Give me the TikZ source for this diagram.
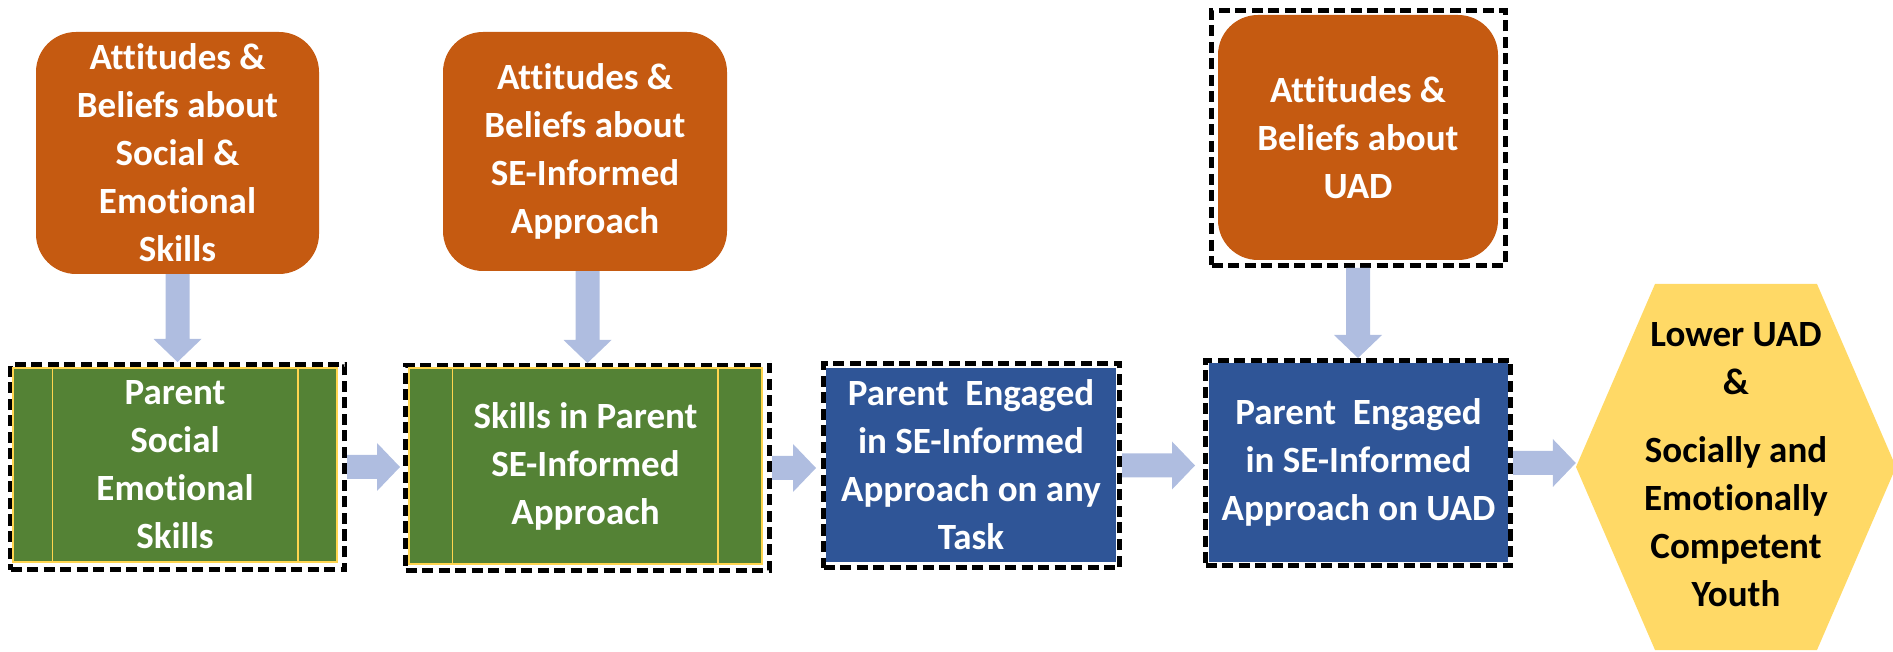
\documentclass[tikz,border=0pt]{standalone}
\usepackage{fontspec}
\setmainfont{Carlito}[Ligatures=NoCommon]
\usetikzlibrary{calc}

\definecolor{attorange}{HTML}{C55A11}
\definecolor{skillgreen}{HTML}{548235}
\definecolor{engblue}{HTML}{2F5597}
\definecolor{outyellow}{HTML}{FFD966}
\definecolor{flowarrow}{HTML}{AFBDE0}
\definecolor{rulegold}{HTML}{FFD54F}

% block arrow pointing down, from the bottom of #1 to the top of #2
\newcommand{\flowdown}[2]{%
  \fill[flowarrow] let \p1=(#1.south), \p2=(#2.north) in
    (\x2-12pt,\y1) -- (\x2+12pt,\y1) -- (\x2+12pt,\y2+23pt) -- (\x2+24pt,\y2+23pt)
    -- (\x2,\y2) -- (\x2-24pt,\y2+23pt) -- (\x2-12pt,\y2+23pt) -- cycle;}
% block arrow pointing right, from #1 towards #2, stopping #3 short of it
\newcommand{\flowright}[3]{%
  \fill[flowarrow] let \p1=(#1.east), \p2=(#2.west) in
    (\x1,\y1+12pt) -- (\x2-#3-23pt,\y1+12pt) -- (\x2-#3-23pt,\y1+24pt) -- (\x2-#3,\y1)
    -- (\x2-#3-23pt,\y1-24pt) -- (\x2-#3-23pt,\y1-12pt) -- (\x1,\y1-12pt) -- cycle;}

\begin{document}
\begin{tikzpicture}[x=1pt,y=1pt,
  txt/.style={font=\fontsize{37}{48}\selectfont\bfseries, align=center, text=white},
  attbox/.style={txt, fill=attorange, rounded corners=40pt, inner sep=0pt},
  greenpanel/.style={txt, fill=skillgreen, draw=rulegold, line width=1.5pt, inner sep=0pt},
  bluepanel/.style={txt, fill=engblue, inner sep=0pt},
  dashframe/.style={draw=black, line width=5pt, dash pattern=on 11pt off 5.5pt,
    preaction={draw=white, line width=5pt, solid}, inner sep=0pt},
  sidebar/.style={draw=rulegold, line width=1.5pt},
]
\useasboundingbox (0,0) rectangle (1893,651);

% attitudes and beliefs (top row)
\node[attbox, minimum width=283pt, minimum height=242pt] (att1) at (177.5,498)
  {Attitudes \&\\Beliefs about\\Social \&\\Emotional\\Skills};
\node[attbox, minimum width=284pt, minimum height=239pt] (att2) at (585,499.5)
  {Attitudes \&\\Beliefs about\\SE-Informed\\Approach};
\node[dashframe, minimum width=294pt, minimum height=255pt] (att3f) at (1358.5,513) {};
\node[attbox, minimum width=280pt, minimum height=245pt] (att3) at (1358,513.5)
  {Attitudes \&\\Beliefs about\\UAD};

% parent skills (green panels)
\node[dashframe, minimum width=334pt, minimum height=205pt] (sk1f) at (177.5,184) {};
\node[greenpanel, minimum width=324pt, minimum height=194pt] (sk1) at (175,186)
  {Parent\\Social\\Emotional\\Skills};
\draw[sidebar] ($(sk1.north west)+(40pt,0)$) -- ($(sk1.south west)+(40pt,0)$);
\draw[sidebar] ($(sk1.north east)+(-40pt,0)$) -- ($(sk1.south east)+(-40pt,0)$);

\node[dashframe, minimum width=364pt, minimum height=205pt] (sk2f) at (587.5,183) {};
\node[greenpanel, minimum width=353pt, minimum height=196pt] (sk2) at (585.5,185)
  {Skills in Parent\\SE-Informed\\Approach};
\draw[sidebar] ($(sk2.north west)+(44pt,0)$) -- ($(sk2.south west)+(44pt,0)$);
\draw[sidebar] ($(sk2.north east)+(-45pt,0)$) -- ($(sk2.south east)+(-45pt,0)$);

% engagement (blue panels)
\node[dashframe, minimum width=296pt, minimum height=204pt] (eng1f) at (971.5,185.5) {};
\node[bluepanel, minimum width=290pt, minimum height=194pt] (eng1) at (971,186)
  {Parent\ \ Engaged\\in SE-Informed\\Approach on any\\Task};
\node[dashframe, minimum width=305pt, minimum height=205pt] (eng2f) at (1358,188) {};
\node[bluepanel, minimum width=299pt, minimum height=199pt] (eng2) at (1358.5,188.5)
  {Parent\ \ Engaged\\in SE-Informed\\Approach on UAD};

% outcome hexagon
\fill[outyellow] (1576,184) -- (1655,367) -- (1817,367) -- (1896,184)
  -- (1817,1) -- (1655,1) -- cycle;
\node[inner sep=0pt, minimum size=0pt] (youthtip) at (1576,184) {};
\node[txt, text=black, inner sep=0pt] (youth) at (1736,186)
  {Lower UAD\\\&\\[20pt]Socially and\\Emotionally\\Competent\\Youth};

% connectors
\flowdown{att1}{sk1f}
\flowdown{att2}{sk2f}
\flowdown{att3f}{eng2f}
\flowright{sk1f}{sk2f}{3pt}
\flowright{sk2f}{eng1f}{5pt}
\flowright{eng1f}{eng2f}{8pt}
\flowright{eng2f}{youthtip}{0pt}
\end{tikzpicture}
\end{document}
